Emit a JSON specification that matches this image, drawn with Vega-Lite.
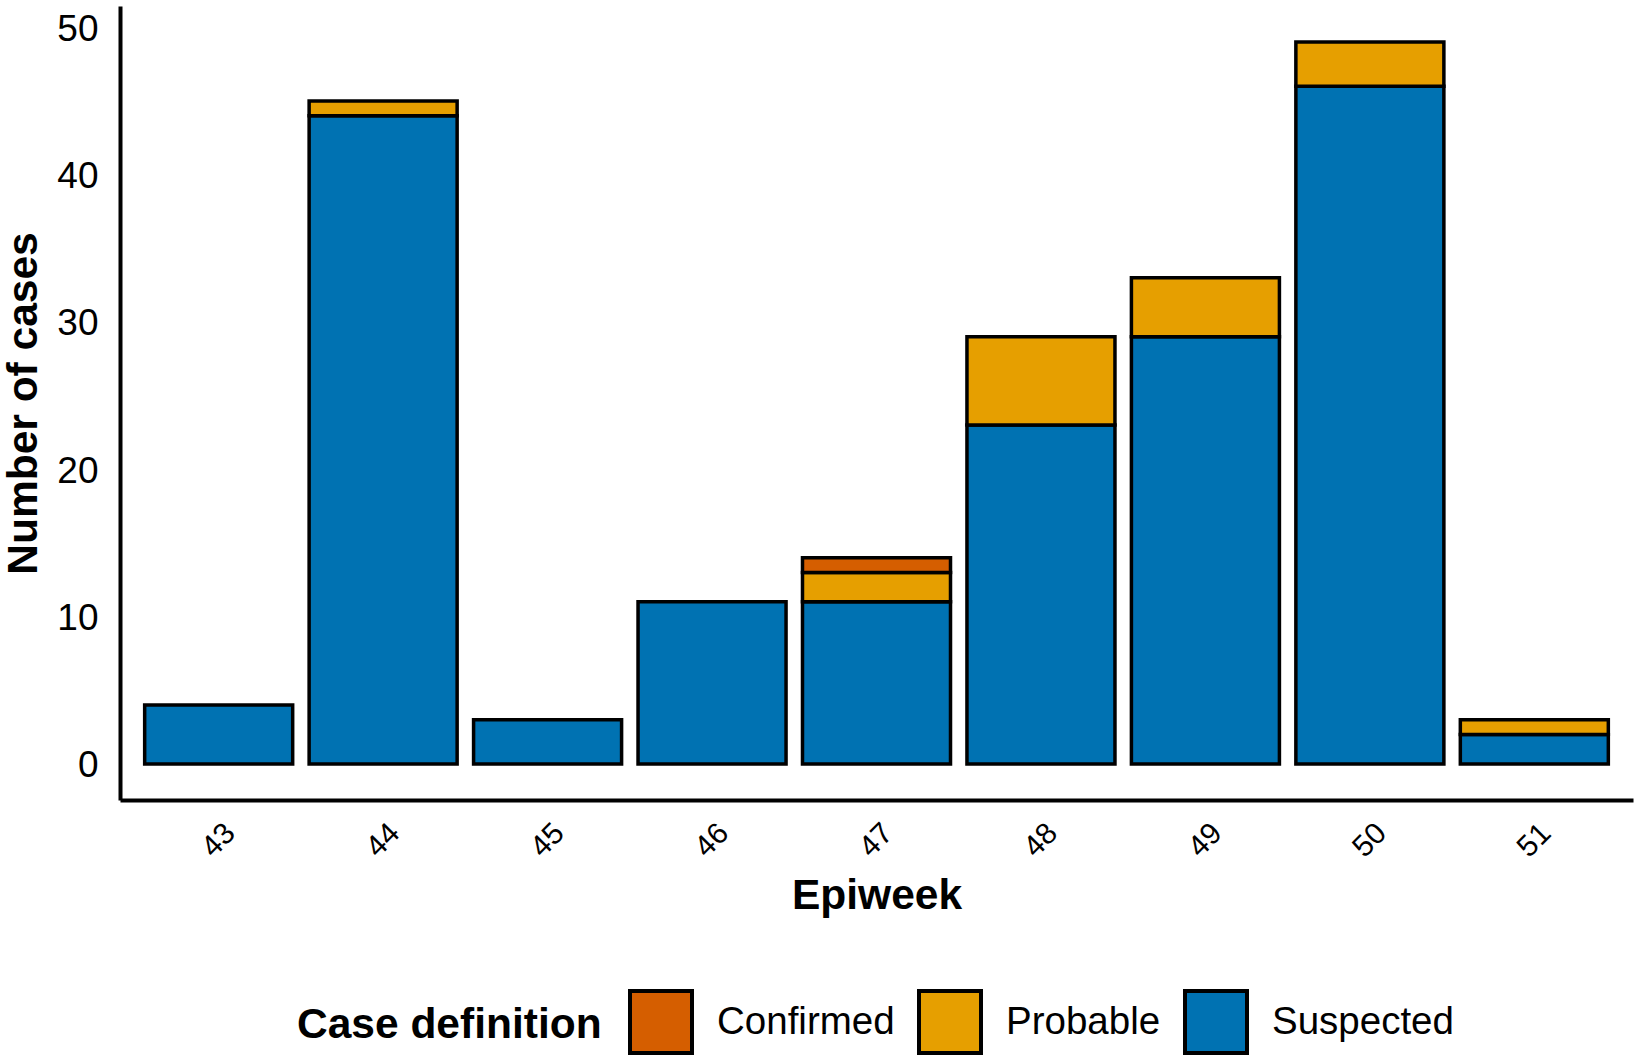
{
  "$schema": "https://vega.github.io/schema/vega-lite/v6.json",
  "autosize": {"type": "none"},
  "width": 1513,
  "height": 794,
  "padding": {"left": 120, "top": 6, "right": 7, "bottom": 258},
  "background": "white",
  "config": {
    "font": "Liberation Sans",
    "view": {"stroke": null}
  },
  "data": {
    "values": [
      {"epiweek": "43", "definition": "Suspected", "cases": 4},
      {"epiweek": "44", "definition": "Suspected", "cases": 44},
      {"epiweek": "44", "definition": "Probable", "cases": 1},
      {"epiweek": "45", "definition": "Suspected", "cases": 3},
      {"epiweek": "46", "definition": "Suspected", "cases": 11},
      {"epiweek": "47", "definition": "Suspected", "cases": 11},
      {"epiweek": "47", "definition": "Probable", "cases": 2},
      {"epiweek": "47", "definition": "Confirmed", "cases": 1},
      {"epiweek": "48", "definition": "Suspected", "cases": 23},
      {"epiweek": "48", "definition": "Probable", "cases": 6},
      {"epiweek": "49", "definition": "Suspected", "cases": 29},
      {"epiweek": "49", "definition": "Probable", "cases": 4},
      {"epiweek": "50", "definition": "Suspected", "cases": 46},
      {"epiweek": "50", "definition": "Probable", "cases": 3},
      {"epiweek": "51", "definition": "Suspected", "cases": 2},
      {"epiweek": "51", "definition": "Probable", "cases": 1}
    ]
  },
  "mark": {"type": "bar", "stroke": "black", "strokeWidth": 3.5},
  "encoding": {
    "x": {
      "field": "epiweek",
      "type": "ordinal",
      "scale": {"paddingInner": 0.1, "paddingOuter": 0.15},
      "axis": {
        "title": "Epiweek",
        "titleFontSize": 42.5,
        "titleFontWeight": "bold",
        "titleColor": "black",
        "titleY": 108,
        "titleBaseline": "alphabetic",
        "labelAngle": -45,
        "labelAlign": "center",
        "labelBaseline": "middle",
        "labelPadding": 40,
        "labelFontSize": 30,
        "labelColor": "black",
        "ticks": false,
        "domainColor": "black",
        "domainWidth": 4
      }
    },
    "y": {
      "field": "cases",
      "type": "quantitative",
      "stack": "zero",
      "scale": {"domain": [-2.45, 51.45], "nice": false, "zero": false},
      "axis": {
        "title": "Number of cases",
        "titleFontSize": 42.5,
        "titleFontWeight": "bold",
        "titleColor": "black",
        "titleX": -97,
        "titleBaseline": "middle",
        "values": [0, 10, 20, 30, 40, 50],
        "labelFontSize": 37,
        "labelColor": "black",
        "labelPadding": 22,
        "labelOffset": 2,
        "ticks": false,
        "grid": false,
        "domainColor": "black",
        "domainWidth": 4
      }
    },
    "color": {
      "field": "definition",
      "type": "nominal",
      "scale": {
        "domain": ["Confirmed", "Probable", "Suspected"],
        "range": ["#D55E00", "#E69F00", "#0072B2"]
      },
      "legend": {
        "title": "Case definition",
        "orient": "none",
        "legendX": 177,
        "legendY": 983,
        "direction": "horizontal",
        "titleOrient": "left",
        "titleFontSize": 42.5,
        "titleFontWeight": "bold",
        "titleColor": "black",
        "titleBaseline": "middle",
        "titlePadding": 26,
        "titleLimit": 0,
        "symbolType": "square",
        "symbolSize": 3844,
        "symbolStrokeColor": "black",
        "symbolStrokeWidth": 4,
        "symbolOpacity": 1,
        "labelFontSize": 38.5,
        "labelColor": "black",
        "labelOffset": 23,
        "labelLimit": 0,
        "columnPadding": 16
      }
    },
    "order": {"field": "definition", "sort": "descending"}
  }
}
